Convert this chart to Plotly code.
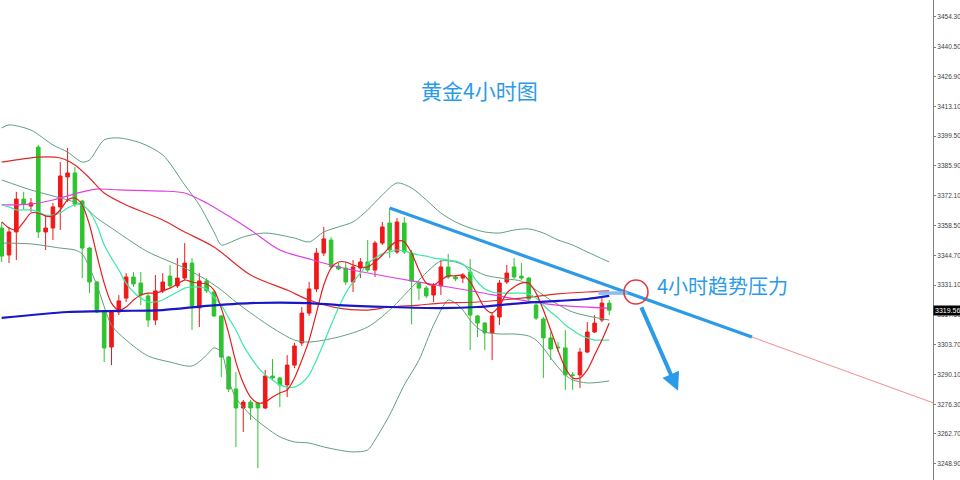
import plotly.graph_objects as go

# ---------------- data ----------------
idx = list(range(84))
opens = [3357.3,3344.9,3355.5,3370.6,3367.4,3394.5,3355.5,3357.3,3367.0,3380.8,3382.6,3369.7,3348.1,3332.5,3318.7,3302.6,3318.7,3325.1,3334.8,3332.0,
         3326.1,3315.0,3328.4,3335.2,3330.7,3334.3,3341.2,3320.6,3333.0,3327.9,3316.9,3298.0,3283.3,3274.6,3277.3,3276.9,3274.6,3289.3,3288.4,3285.2,
         3294.3,3304.5,3318.2,3329.3,3345.8,3351.8,3339.8,3338.9,3332.5,3338.9,3341.7,3338.0,3350.4,3359.6,3346.3,3359.6,3345.8,3332.0,3329.7,3326.5,
         3330.7,3339.4,3334.8,3334.3,3337.1,3316.9,3313.6,3309.1,3316.4,3332.5,3339.4,3335.2,3334.3,3321.9,3315.5,3306.8,3302.6,3302.2,3289.8,3289.8,
         3300.3,3309.5,3315.0,3322.8]
highs = [3360.1,3357.8,3373.9,3373.9,3371.1,3395.5,3363.3,3368.8,3387.6,3394.1,3385.3,3370.2,3348.5,3333.0,3319.2,3319.2,3326.5,3336.6,3337.1,3337.1,
         3327.4,3335.7,3336.6,3340.3,3343.5,3350.4,3343.5,3336.6,3334.3,3328.4,3317.3,3298.5,3291.1,3278.3,3278.3,3277.3,3292.1,3297.1,3288.8,3298.9,
         3304.5,3321.0,3332.5,3348.1,3357.8,3353.2,3341.2,3341.7,3342.6,3343.5,3351.8,3351.4,3360.1,3366.5,3361.9,3362.4,3347.2,3332.9,3330.7,3332.0,
         3342.6,3345.4,3335.7,3336.6,3343.1,3317.3,3314.1,3318.2,3333.4,3340.3,3343.5,3341.2,3334.8,3322.8,3316.4,3309.5,3304.9,3310.4,3291.1,3302.2,
         3314.1,3317.3,3325.1,3324.2]
lows = [3341.7,3341.2,3342.6,3365.6,3364.7,3352.7,3347.2,3351.8,3356.4,3369.3,3367.0,3334.3,3327.4,3318.2,3295.7,3294.3,3317.3,3323.3,3330.2,3321.9,
        3311.8,3312.7,3327.4,3329.7,3329.7,3333.4,3310.4,3311.8,3327.4,3316.4,3288.8,3281.9,3256.7,3263.6,3269.1,3247.0,3274.1,3287.5,3275.0,3279.6,
        3292.9,3303.1,3316.9,3327.9,3344.4,3338.9,3338.0,3331.1,3327.9,3334.3,3337.1,3334.8,3349.5,3343.5,3345.4,3345.4,3313.0,3324.2,3325.1,3323.3,
        3326.5,3333.9,3332.9,3332.0,3301.2,3307.2,3301.2,3296.6,3312.7,3331.6,3333.9,3333.4,3323.8,3315.0,3288.4,3296.6,3300.3,3282.9,3282.9,3283.8,
        3299.8,3309.1,3314.1,3317.3]
closes = [3344.4,3355.5,3370.6,3368.3,3368.8,3355.5,3357.3,3367.0,3381.2,3382.6,3368.3,3348.1,3332.5,3318.7,3302.2,3318.7,3323.8,3334.8,3331.6,3326.5,
          3315.0,3328.4,3332.5,3330.7,3334.3,3341.2,3321.5,3333.0,3328.4,3316.9,3298.0,3283.3,3274.6,3277.3,3274.6,3274.6,3289.3,3288.4,3285.2,3294.3,
          3303.1,3318.2,3329.3,3345.8,3352.3,3339.4,3338.5,3332.5,3339.4,3341.7,3338.0,3350.4,3357.8,3347.2,3360.1,3346.3,3332.9,3329.7,3326.1,3330.7,
          3339.4,3334.8,3333.9,3335.7,3317.3,3313.6,3309.1,3316.9,3332.0,3336.6,3334.8,3334.3,3324.7,3315.9,3306.8,3301.7,3302.3,3289.8,3289.6,3300.3,
          3309.5,3313.6,3322.8,3319.56]

ma_fast = [3360.1,3357.3,3356.4,3360.1,3364.2,3364.2,3362.8,3362.8,3365.6,3370.2,3371.1,3367.9,3358.7,3344.9,3332.0,3322.8,3319.6,3321.0,3324.2,3326.5,
           3327.4,3327.4,3328.4,3329.7,3331.6,3333.4,3332.5,3332.0,3331.6,3328.8,3320.5,3309.1,3295.7,3286.1,3279.6,3276.9,3277.3,3279.6,3281.5,3282.9,
           3288.4,3296.6,3305.8,3318.3,3331.1,3338.9,3341.7,3341.7,3340.3,3339.4,3339.4,3341.7,3344.9,3348.6,3351.3,3350.9,3345.8,3338.0,3332.0,3331.1,
           3333.4,3335.3,3335.3,3335.7,3332.5,3326.5,3320.5,3318.3,3321.5,3327.4,3330.2,3332.0,3332.0,3327.4,3319.6,3310.4,3301.2,3293.0,3288.4,3288.4,
           3292.1,3298.9,3305.8,3313.7]
ma_mid = [3367.9,3367.0,3365.6,3365.6,3365.6,3364.7,3363.3,3363.3,3364.2,3366.5,3367.9,3367.9,3364.7,3358.7,3349.5,3343.5,3338.0,3332.0,3327.9,3325.1,
          3323.3,3323.3,3324.2,3326.1,3327.9,3329.7,3330.2,3330.2,3329.3,3325.6,3321.9,3316.0,3310.4,3303.5,3298.0,3293.4,3289.8,3287.5,3285.2,3284.2,
          3284.2,3286.1,3289.8,3296.6,3304.5,3312.7,3320.5,3327.4,3332.5,3336.6,3340.8,3343.5,3345.4,3346.3,3347.2,3346.7,3345.8,3344.9,3344.4,3343.5,
          3343.1,3342.6,3342.1,3340.8,3337.1,3332.5,3329.3,3327.9,3327.4,3327.4,3327.4,3327.4,3327.0,3325.1,3321.9,3318.7,3316.0,3312.7,3310.4,3308.1,
          3306.8,3305.8,3305.8,3305.8]

slow_x = [0,5,8,10,12,14,17,22,25,29,34,39,42,46,50,53,57,60,65,71,76,80,83]
slow_y = [3387.6,3389.9,3389.5,3386.3,3380.3,3373.4,3367.9,3361.0,3355.5,3348.6,3335.7,3328.8,3324.2,3320.5,3319.6,3321.0,3321.9,3322.8,3323.3,3325.1,3327.0,3327.9,3328.4]

mag_x = [0,4,7,11,13,16,22,25,28,31,34,38,42,46,53,61,65,71,77,83]
mag_y = [3367.9,3368.3,3370.2,3373.9,3375.2,3374.8,3374.3,3373.4,3368.8,3362.8,3356.4,3347.2,3343.1,3339.4,3334.8,3330.2,3327.9,3324.2,3321.5,3320.5]

blue_x = [0,9,16,22,28,34,42,46,53,60,65,71,76,80,83]
blue_y = [3316.0,3318.7,3319.2,3319.6,3321.5,3322.8,3322.8,3321.9,3321.0,3320.5,3321.0,3322.8,3323.8,3324.7,3326.1]

bbu_x = [0,1,4,7,9,11,12,14,16,19,22,25,27,29,30,31,33,36,40,42,44,46,48,50,52,54,56,58,60,62,64,66,68,70,72,74,76,78,80,83]
bbu_y = [3403.3,3404.7,3402.3,3395.5,3392.2,3387.6,3388.6,3397.8,3398.7,3396.4,3390.9,3377.1,3367.9,3355.5,3349.5,3350.4,3353.2,3355.0,3352.7,3350.9,
         3355.5,3357.8,3360.1,3365.6,3372.5,3378.0,3375.7,3370.2,3364.2,3360.1,3357.3,3355.5,3355.0,3356.4,3356.9,3355.0,3351.8,3349.5,3346.3,3341.7]

bbm_x = [0,4,9,11,13,15,17,20,25,28,30,32,34,37,40,42,46,50,53,57,60,62,64,66,69,71,73,75,78,83]
bbm_y = [3379.4,3374.8,3370.2,3367.9,3361.9,3357.3,3352.7,3346.3,3338.9,3333.4,3328.8,3323.3,3318.3,3311.4,3305.8,3304.9,3307.2,3311.8,3319.6,3333.4,
         3342.1,3341.7,3338.9,3335.7,3333.9,3332.9,3328.8,3324.2,3318.7,3315.0]

bbl_x = [0,4,8,10,11,13,15,17,20,23,26,28,29,30,31,32,34,36,38,40,42,44,46,48,50,51,53,55,57,59,61,62,63,64,65,66,68,70,72,73,74,75,76,77,78,80,83]
bbl_y = [3350.4,3350.0,3348.1,3347.2,3345.4,3331.1,3312.7,3305.8,3298.5,3295.7,3293.9,3298.9,3302.2,3300.3,3287.5,3279.2,3271.4,3265.9,3261.3,3259.0,
         3258.5,3256.7,3255.3,3254.4,3255.3,3259.9,3271.4,3285.2,3296.6,3312.7,3324.2,3322.8,3319.6,3315.0,3311.4,3309.5,3308.6,3308.6,3307.7,3305.8,
         3302.2,3297.6,3293.4,3289.8,3287.5,3286.1,3287.0]

trend_x = [53, 102.5]
trend_y = [3366.5, 3307.2]
ext_x = [102.5, 127.3]
ext_y = [3307.2, 3276.9]
hl_x = [81.5, 85.5]
hl_y = [3327.4, 3327.4]

tick_vals = [3454.3,3440.5,3426.9,3413.1,3399.5,3385.9,3372.1,3358.5,3344.7,3331.1,3317.5,3303.7,3290.1,3276.3,3262.7,3248.9]
tick_text = ["%.2f" % v for v in tick_vals]
last_price = 3319.56

title_text = "黄金4小时图"
label_text = "4小时趋势压力"

# ---------------- figure ----------------
BB = "#5f9f7f"
fig = go.Figure()

def line(x, y, color, width, shape="spline"):
    fig.add_trace(go.Scatter(x=x, y=y, mode="lines", line=dict(color=color, width=width, shape=shape, smoothing=0.8),
                             hoverinfo="skip", showlegend=False))

line(bbu_x, bbu_y, BB, 1)
line(bbm_x, bbm_y, BB, 1)
line(bbl_x, bbl_y, BB, 1)
line(mag_x, mag_y, "#e040e0", 1.2)
line(slow_x, slow_y, "#e02828", 1.2)

fig.add_trace(go.Candlestick(
    x=idx, open=opens, high=highs, low=lows, close=closes,
    increasing=dict(line=dict(color="#f01818", width=1), fillcolor="#f01818"),
    decreasing=dict(line=dict(color="#2ec42e", width=1), fillcolor="#2ec42e"),
    whiskerwidth=0, showlegend=False, hoverinfo="skip"))

line(idx, ma_mid, "#3de8a8", 1.2)
line(idx, ma_fast, "#e41e1e", 1.2)
line(blue_x, blue_y, "#1818c8", 2.2)

line(ext_x, ext_y, "#f07070", 0.8, "linear")
line(trend_x, trend_y, "#2b9be8", 3.2, "linear")
line(hl_x, hl_y, "#86c0f2", 3.5, "linear")

fig.add_shape(type="circle", xref="x", yref="y",
              x0=86.65 - 1.64, x1=86.65 + 1.64, y0=3327.9 - 5.5, y1=3327.9 + 5.5,
              line=dict(color="#e03c3c", width=1.6))

fig.add_annotation(x=92.4, y=3282.5, ax=87.3, ay=3321.5, xref="x", yref="y", axref="x", ayref="y",
                   showarrow=True, arrowhead=2, arrowsize=0.9, arrowwidth=4, arrowcolor="#2b9be8", text="")

fig.add_annotation(x=89.3, y=3330.8, xref="x", yref="y", text=label_text, showarrow=False,
                   xanchor="left", yanchor="middle",
                   font=dict(family="Noto Sans CJK SC", size=20, color="#2b9be8"))
fig.add_annotation(x=479/933, y=1 - 90/480, xref="paper", yref="paper", text=title_text, showarrow=False,
                   xanchor="center", yanchor="middle",
                   font=dict(family="Noto Sans CJK SC", size=21, color="#2b9be8"))

fig.add_annotation(x=1, y=last_price, xref="paper", yref="y", text="%.2f" % last_price, showarrow=False,
                   xanchor="left", yanchor="middle", bgcolor="#000000", borderpad=1,
                   font=dict(family="Liberation Sans", size=7, color="#ffffff"))

fig.update_layout(
    width=960, height=480,
    margin=dict(l=0, r=27, t=0, b=0),
    paper_bgcolor="white", plot_bgcolor="white",
    showlegend=False,
    xaxis=dict(range=[-0.232, 127.23], visible=False, rangeslider=dict(visible=False), fixedrange=True),
    yaxis=dict(range=[3241.5, 3462.1], side="right", showgrid=False, zeroline=False,
               showline=True, linecolor="#808080", linewidth=1,
               ticks="outside", ticklen=2, tickcolor="#808080",
               tickvals=tick_vals, ticktext=tick_text, automargin=False, fixedrange=True,
               tickfont=dict(family="Liberation Sans", size=6.5, color="#404040")),
)

fig.write_html("out.html", config={"displayModeBar": False, "staticPlot": True},
               post_script="document.body.style.margin='0';document.body.style.overflow='hidden';")
